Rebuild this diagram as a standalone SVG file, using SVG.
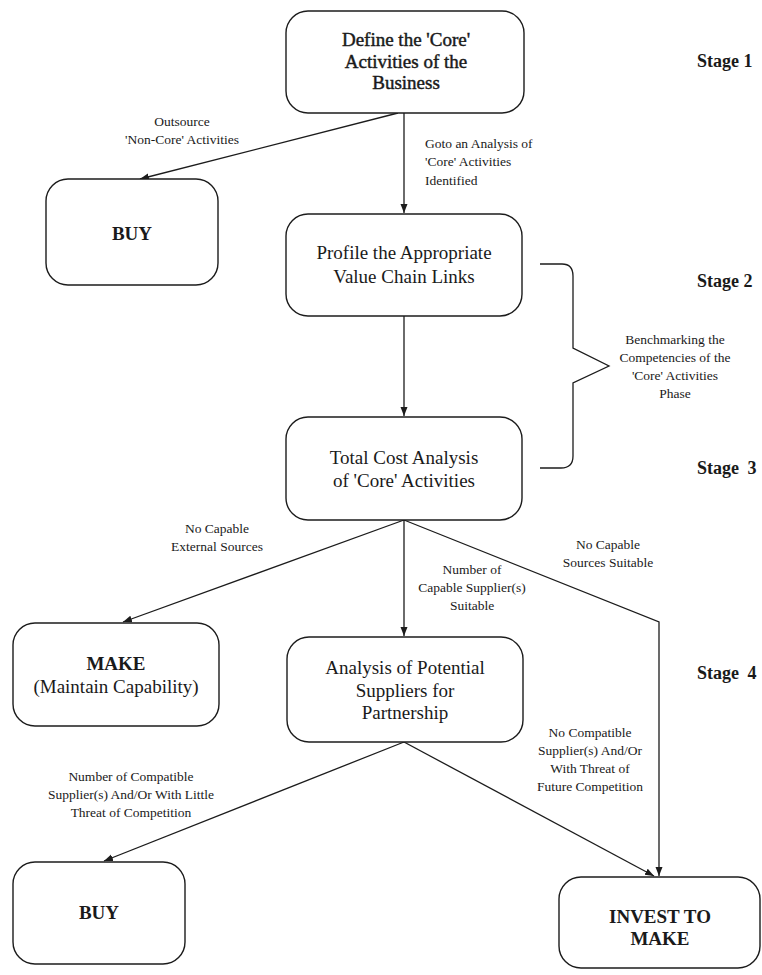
<svg xmlns="http://www.w3.org/2000/svg" width="762" height="975" viewBox="0 0 762 975">
  <defs>
    <marker id="arrow" markerUnits="userSpaceOnUse" markerWidth="10" markerHeight="8" refX="9" refY="3.5" orient="auto">
      <path d="M0,0 L9,3.5 L0,7 z" fill="#1c1c1c"/>
    </marker>
    <style>
      .box { fill: #ffffff; stroke: #1c1c1c; stroke-width: 1.4; }
      .edge { fill: none; stroke: #1c1c1c; stroke-width: 1.3; }
      .node { font-family: "Liberation Serif", "Times New Roman", serif; font-size: 19px; fill: #1a1a1a; text-anchor: middle; }
      .bold { font-weight: bold; }
      .semi { stroke: #1a1a1a; stroke-width: 0.45; }
      .lbl { font-family: "Liberation Serif", "Times New Roman", serif; font-size: 13.5px; fill: #1a1a1a; text-anchor: middle; }
      .lbl-left { font-family: "Liberation Serif", "Times New Roman", serif; font-size: 13.5px; fill: #1a1a1a; text-anchor: start; }
      .stage { font-family: "Liberation Serif", "Times New Roman", serif; font-size: 18px; font-weight: bold; fill: #1a1a1a; }
    </style>
  </defs>
  <rect width="762" height="975" fill="#ffffff"/>

  <!-- connectors -->
  <g id="connectors">
    <line class="edge" x1="398" y1="113" x2="140" y2="179" marker-end="url(#arrow)"/>
    <line class="edge" x1="404" y1="113" x2="404" y2="213" marker-end="url(#arrow)"/>
    <line class="edge" x1="404" y1="316" x2="404" y2="416" marker-end="url(#arrow)"/>
    <line class="edge" x1="404" y1="520" x2="123" y2="622" marker-end="url(#arrow)"/>
    <line class="edge" x1="404" y1="520" x2="404" y2="636" marker-end="url(#arrow)"/>
    <polyline class="edge" points="404,520 659,622 659,876" marker-end="url(#arrow)"/>
    <line class="edge" x1="404" y1="742" x2="104" y2="861" marker-end="url(#arrow)"/>
    <line class="edge" x1="404" y1="742" x2="654" y2="876" marker-end="url(#arrow)"/>
    <!-- brace grouping stages 2 and 3 -->
    <path class="edge" d="M540,264 L562,264 Q573,264 573,276 L573,348 L609,366 L573,383 L573,456 Q573,468 561,468 L540,468"/>
  </g>

  <!-- edge labels -->
  <g id="edge-labels">
    <text class="lbl" x="182" y="126">Outsource</text>
    <text class="lbl" x="182" y="143.5">'Non-Core' Activities</text>
    <text class="lbl-left" x="425" y="147.5">Goto an Analysis of</text>
    <text class="lbl-left" x="425" y="166">'Core' Activities</text>
    <text class="lbl-left" x="425" y="184.5">Identified</text>
    <text class="lbl" x="675" y="343.5">Benchmarking the</text>
    <text class="lbl" x="675" y="361.5">Competencies of the</text>
    <text class="lbl" x="675" y="379.5">'Core' Activities</text>
    <text class="lbl" x="675" y="397.5">Phase</text>
    <text class="lbl" x="217" y="532.5">No Capable</text>
    <text class="lbl" x="217" y="550.5">External Sources</text>
    <text class="lbl" x="472" y="573.5">Number of</text>
    <text class="lbl" x="472" y="591.5">Capable Supplier(s)</text>
    <text class="lbl" x="472" y="609.5">Suitable</text>
    <text class="lbl" x="608" y="548.5">No Capable</text>
    <text class="lbl" x="608" y="566.5">Sources Suitable</text>
    <text class="lbl" x="131" y="780.5">Number of Compatible</text>
    <text class="lbl" x="131" y="798.5">Supplier(s) And/Or With Little</text>
    <text class="lbl" x="131" y="816.5">Threat of Competition</text>
    <text class="lbl" x="590" y="736.5">No Compatible</text>
    <text class="lbl" x="590" y="754.5">Supplier(s) And/Or</text>
    <text class="lbl" x="590" y="772.5">With Threat of</text>
    <text class="lbl" x="590" y="790.5">Future Competition</text>
  </g>

  <!-- stage markers -->
  <g id="stages">
    <text class="stage" x="697" y="67">Stage 1</text>
    <text class="stage" x="697" y="287">Stage 2</text>
    <text class="stage" x="697" y="474" word-spacing="4">Stage 3</text>
    <text class="stage" x="697" y="679" word-spacing="4">Stage 4</text>
  </g>

  <!-- nodes -->
  <g id="define-core">
    <rect class="box" x="286" y="11" width="238" height="102" rx="22"/>
    <text class="node semi" x="406" y="46">Define the 'Core'</text>
    <text class="node semi" x="406" y="68">Activities of the</text>
    <text class="node semi" x="406" y="89">Business</text>
  </g>
  <g id="buy-noncore">
    <rect class="box" x="46" y="179" width="172" height="106" rx="22"/>
    <text class="node bold" x="132" y="239.5">BUY</text>
  </g>
  <g id="profile-value-chain">
    <rect class="box" x="286" y="214" width="236" height="102" rx="22"/>
    <text class="node" x="404" y="259">Profile the Appropriate</text>
    <text class="node" x="404" y="283">Value Chain Links</text>
  </g>
  <g id="total-cost">
    <rect class="box" x="286" y="417" width="236" height="103" rx="22"/>
    <text class="node" x="404" y="464">Total Cost Analysis</text>
    <text class="node" x="404" y="487">of 'Core' Activities</text>
  </g>
  <g id="make">
    <rect class="box" x="13" y="623" width="206" height="103" rx="22"/>
    <text class="node bold" x="116" y="669.5">MAKE</text>
    <text class="node" x="116" y="693">(Maintain Capability)</text>
  </g>
  <g id="supplier-analysis">
    <rect class="box" x="287" y="637" width="236" height="105" rx="22"/>
    <text class="node" x="405" y="674">Analysis of Potential</text>
    <text class="node" x="405" y="697">Suppliers for</text>
    <text class="node" x="405" y="719">Partnership</text>
  </g>
  <g id="buy-partner">
    <rect class="box" x="13" y="862" width="172" height="102" rx="22"/>
    <text class="node bold" x="99" y="918.5">BUY</text>
  </g>
  <g id="invest-to-make">
    <rect class="box" x="559" y="877" width="201" height="91" rx="22"/>
    <text class="node bold" x="660" y="922.5">INVEST TO</text>
    <text class="node bold" x="660" y="945">MAKE</text>
  </g>
</svg>
